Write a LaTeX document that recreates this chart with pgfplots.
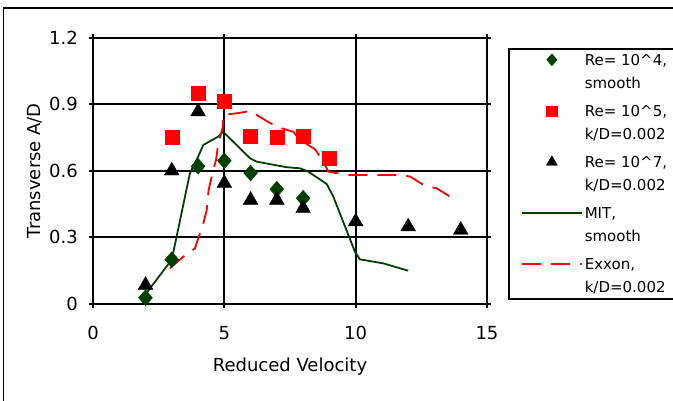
\documentclass[border=0pt]{standalone}
\usepackage{pgfplots}
\pgfplotsset{compat=1.18}
\usepackage{fontspec}
\setmainfont{DejaVu Sans}
\definecolor{darkgrn}{RGB}{0,64,0}
\definecolor{exred}{RGB}{255,0,0}
\newcommand{\axfont}{\fontsize{18}{21}\selectfont}
\newcommand{\legfont}{\fontsize{15}{23}\selectfont}

\begin{document}
\begin{tikzpicture}[x=1pt,y=1pt]
\path[use as bounding box] (0,0) rectangle (673,400);
% outer chart frame (cut off at right and bottom)
\draw[line width=1.2pt] (3.5,-5) -- (3.5,392) -- (690,392);
\begin{axis}[
    at={(93pt,96pt)}, anchor=south west,
    scale only axis, width=394pt, height=266.5pt,
    xmin=0, xmax=15, ymin=0, ymax=1.2,
    xtick={0,5,10,15}, ytick={0,0.3,0.6,0.9,1.2},
    grid=major, major grid style={black, line width=2pt},
    axis line style={black, line width=2pt},
    tick align=outside, major tick length=4pt,
    tick style={black, line width=2pt},
    /pgf/number format/assume math mode=true,
    xticklabel style={font=\axfont, inner sep=0pt, anchor=north, yshift=-18pt},
    yticklabel style={font=\axfont, inner sep=0pt, anchor=east, xshift=-11pt},
    xlabel={Reduced Velocity},
    ylabel={Transverse A/D},
    every axis x label/.style={at={(axis description cs:0.5,-0.255)}, anchor=base, font=\axfont},
    every axis y label/.style={at={(axis description cs:-0.147,0.5)}, anchor=center, rotate=90, font=\axfont},
    legend style={at={(1.0533,0.9606)}, anchor=north west, draw=black, line width=2pt,
        inner xsep=12pt, inner ysep=3pt, row sep=11.5pt, column sep=0pt,
        font=\legfont,
        cells={anchor=west, align=left, inner xsep=1pt},
        /tikz/every odd column/.append style={text width=100pt}},
    % image raised to the first of the two text lines, markers a bit smaller
    legend image code/.code={\draw[mark repeat=2, mark phase=2, yshift=12pt, #1,
            every mark/.append style={scale=0.75}]
        plot coordinates {(0pt,0pt) (30pt,0pt) (60pt,0pt)};},
]

\addplot[only marks, mark=diamond*, mark size=8pt, color=darkgrn,
    mark options={solid, line width=0.4pt, xscale=1.15}] coordinates {
    (2,0.028) (3,0.20) (4,0.62) (5,0.645) (6,0.59) (7,0.517) (8,0.476)};
\addlegendentry{Re= 10\textasciicircum4,\\smooth}

\addplot[only marks, mark=square*, mark size=7pt, color=exred,
    mark options={solid, line width=0.4pt}] coordinates {
    (3,0.75) (4,0.95) (5,0.914) (6,0.757) (7,0.75) (8,0.757) (9,0.656)};
\addlegendentry{Re= 10\textasciicircum5,\\k/D=0.002}

\addplot[only marks, mark=triangle*, mark size=8.5pt, color=black,
    mark options={solid, line width=0.4pt}] coordinates {
    (2,0.085) (3,0.60) (4,0.866) (5,0.544) (6,0.468) (7,0.468) (8,0.431)
    (10,0.371) (12,0.348) (14,0.333)};
\addlegendentry{Re= 10\textasciicircum7,\\k/D=0.002}

\addplot[color=darkgrn, line width=1.8pt, mark=none] coordinates {
    (2.02,0.047) (3,0.20) (3.69,0.589) (4,0.663) (4.2,0.716) (4.77,0.754)
    (4.95,0.776) (5.98,0.656) (6.23,0.641) (7.37,0.616) (7.88,0.611)
    (8.2,0.596) (8.9,0.54) (9.15,0.483) (9.97,0.236) (10.16,0.201)
    (11.05,0.183) (12.0,0.15)};
\addlegendentry{MIT,\\smooth}

\addplot[color=exred, line width=1.8pt, mark=none, dash pattern=on 19pt off 10pt] coordinates {
    (2.93,0.161) (3.44,0.213) (3.88,0.25) (4.2,0.363) (4.33,0.423)
    (4.4,0.513) (4.58,0.603) (4.68,0.647) (4.77,0.723) (4.94,0.797)
    (4.96,0.851) (5.6,0.861) (5.98,0.869) (6.6,0.825) (6.99,0.798)
    (7.62,0.776) (7.88,0.739) (8.45,0.697) (8.77,0.641) (8.96,0.596)
    (9.66,0.581) (11.7,0.581) (12.07,0.574) (12.64,0.532) (13.08,0.521)
    (13.7,0.476)};
\addlegendentry{Exxon,\\k/D=0.002}

\end{axis}
\end{tikzpicture}
\end{document}
